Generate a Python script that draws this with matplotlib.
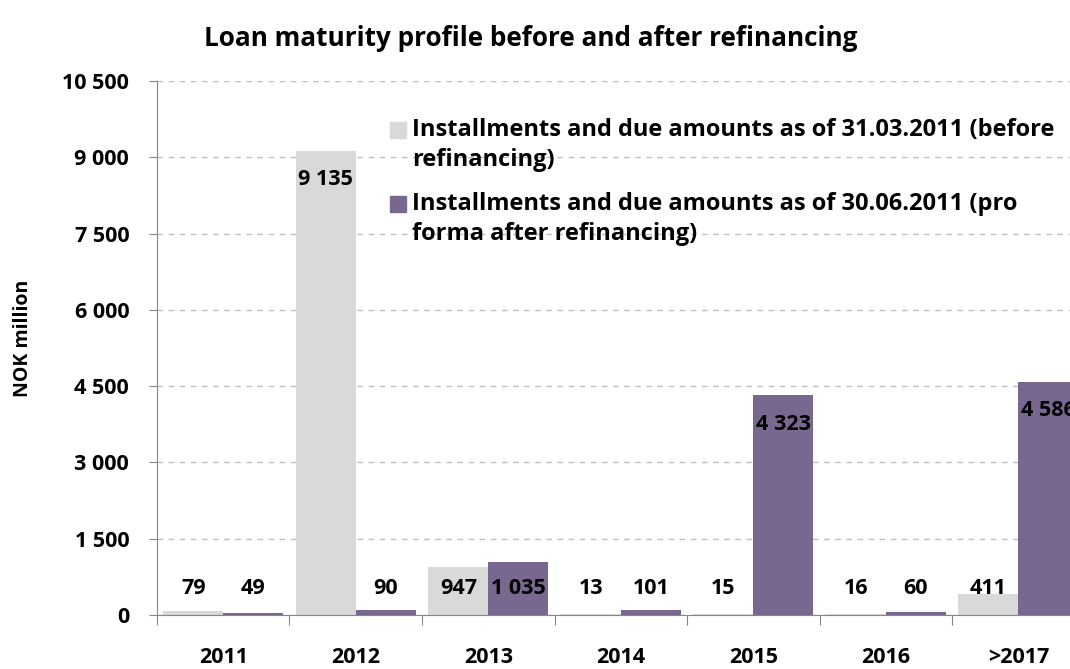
import numpy as np
import matplotlib
matplotlib.use('Agg')
import matplotlib.pyplot as plt
from matplotlib.patches import Rectangle

plt.rcParams['font.family'] = ['Open Sans', 'DejaVu Sans']
plt.rcParams['font.weight'] = 'bold'

# data
years = ['2011', '2012', '2013', '2014', '2015', '2016', '>2017']
before = [79, 9135, 947, 13, 15, 16, 411]
after = [49, 90, 1035, 101, 4323, 60, 4586]
yticks = [0, 1500, 3000, 4500, 6000, 7500, 9000, 10500]

label_before = ['Installments and due amounts as of 31.03.2011 (before', 'refinancing)']
label_after = ['Installments and due amounts as of 30.06.2011 (pro', 'forma after refinancing)']

c_grey = '#d9d9d9'
c_purple = '#786890'

def fmt(v):
    return f'{v:,}'.replace(',', ' ')

fig = plt.figure(figsize=(10.7, 6.69), dpi=100)
ax = fig.add_axes([0.1467, 0.0807, 0.867, 0.798])

x = np.arange(len(years))
w = 0.453
ax.bar(x - w / 2, before, w, color=c_grey, zorder=2)
ax.bar(x + w / 2, after, w, color=c_purple, zorder=2)

# value labels (Excel style: inside end for tall bars, fixed low row otherwise)
for xs, vals in ((x - w / 2, before), (x + w / 2, after)):
    for xi, v in zip(xs, vals):
        ax.text(xi, max(v - 570, 530), fmt(v), ha='center', va='center',
                fontsize=15.5, fontweight='bold', color='black', zorder=3)

ax.set_xlim(-0.5, len(years) - 0.5)
ax.set_ylim(0, 10500)
ax.set_yticks(yticks)
ax.set_yticklabels([fmt(v) for v in yticks], fontsize=15.5, fontweight='bold')
ax.set_xticks(np.arange(len(years) + 1) - 0.5)
ax.set_xticklabels([])
ax.set_xticks(x, minor=True)
ax.set_xticklabels(years, minor=True, fontsize=15.5, fontweight='bold')
ax.tick_params(axis='x', which='minor', length=0, pad=23)
ax.tick_params(axis='x', which='major', length=7, color='#868686', direction='out')
ax.tick_params(axis='y', length=6, color='#868686', direction='out', pad=14)

ax.grid(axis='y', linestyle=(0, (4, 4)), color='#bfbfbf', linewidth=1, zorder=0)
for s in ('top', 'right'):
    ax.spines[s].set_visible(False)
for s in ('left', 'bottom'):
    ax.spines[s].set_color('#868686')

ax.set_ylabel('NOK million', fontsize=14, fontweight='bold')
ax.yaxis.set_label_coords(-0.134, 0.519)

fig.text(0.4963, 0.943, 'Loan maturity profile before and after refinancing',
         ha='center', va='center', fontsize=18.8, fontweight='bold')

# legend drawn by hand so the marker sits on the first line
W, H = 1070, 669
for ypix, col, lines in ((130, c_grey, label_before), (204, c_purple, label_after)):
    fig.patches.append(Rectangle((390 / W, 1 - (ypix + 8) / H), 16 / W, 16 / H,
                                 transform=fig.transFigure, color=col))
    for k, line in enumerate(lines):
        fig.text(412 / W, 1 - (ypix + 30 * k) / H, line, ha='left', va='center',
                 fontsize=17, fontweight='bold')

fig.savefig('out.png', dpi=100)
